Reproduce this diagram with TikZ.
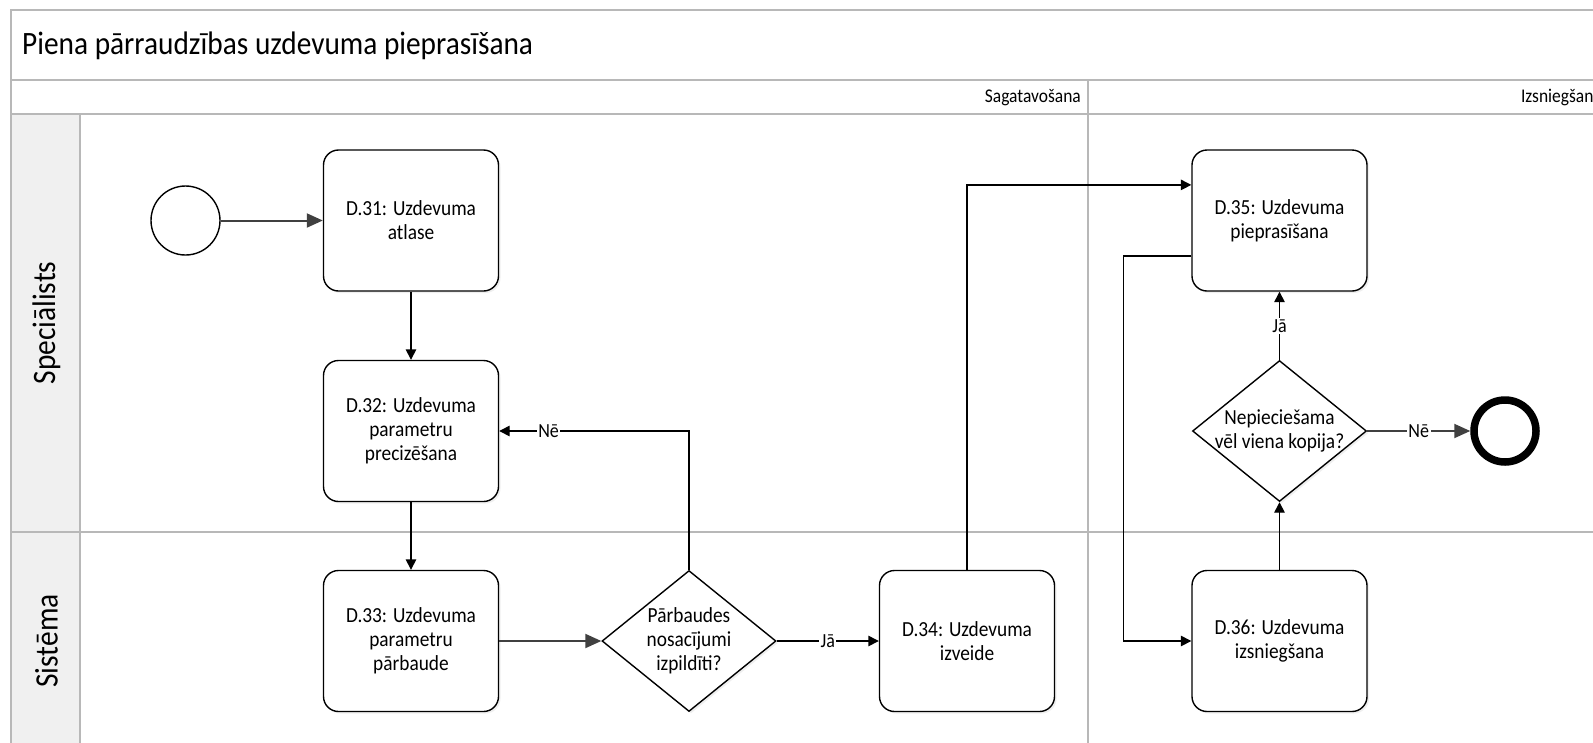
\documentclass[tikz,border=0pt]{standalone}
\usepackage{fontspec}
\setmainfont{Carlito}[FakeStretch=0.9]
\usetikzlibrary{shapes.geometric,arrows.meta,shadows,calc}

\begin{document}
\begin{tikzpicture}[x=1pt,y=-1pt,
  poolline/.style={draw=black!28, line width=1.6pt},
  lanehead/.style={fill=black!6},
  task/.style={rectangle, draw=black, line width=1.4pt, rounded corners=15pt,
    fill=white, minimum width=175pt, minimum height=141pt, inner sep=0pt,
    align=center, font={\fontsize{21.5}{23.8}\selectfont},
    drop shadow={shadow xshift=2pt, shadow yshift=-2pt, opacity=0.12}},
  decision/.style={diamond, draw=black, line width=1.4pt, fill=white,
    minimum width=174pt, minimum height=141pt, inner sep=0pt,
    drop shadow={shadow xshift=2pt, shadow yshift=-2pt, opacity=0.12}},
  dtext/.style={align=center, font={\fontsize{21.5}{23.8}\selectfont}, inner sep=0pt},
  startev/.style={circle, draw=black, line width=1.4pt, fill=white,
    minimum size=69pt, inner sep=0pt},
  endev/.style={circle, draw=black, line width=7.5pt, fill=white,
    minimum size=62pt, inner sep=0pt},
  arr/.style={draw=black, line width=1.4pt, -{Triangle[length=10.5pt,width=10.5pt]}},
  garr/.style={draw=black!75, line width=2pt, -{Triangle[length=16pt,width=14pt]}},
  lbl/.style={fill=white, inner sep=1.5pt, font={\fontsize{20}{22}\selectfont}},
  phase/.style={anchor=east, inner sep=0pt, font={\fontsize{19.4}{22}\selectfont}},
  lanetitle/.style={rotate=90, inner sep=0pt, font={\fontsize{32.7}{36}\selectfont}}
]
\useasboundingbox (0,0) rectangle (1593,742);
\clip (0,0) rectangle (1593,742);
\fill[white] (0,0) rectangle (1593,742);

% pool, title band, phase headers and lanes
\fill[lanehead] (11,114) rectangle (80,770);
\draw[poolline] (11,770) -- (11,10) -- (1611,10) -- (1611,770);
\draw[poolline] (11,80) -- (1611,80);
\draw[poolline] (11,114) -- (1611,114);
\draw[poolline] (80,114) -- (80,770);
\draw[poolline] (11,532) -- (1611,532);
\draw[poolline] (1088,80) -- (1088,770);

\node[anchor=west, inner sep=0pt, font={\fontsize{32.6}{36}\selectfont}] (title) at (22,46) {Piena pārraudzības uzdevuma pieprasīšana};
\node[phase] (ph1) at (1081,97.5) {Sagatavošana};
\node[phase] (ph2) at (1602,97.5) {Izsniegšana};
\node[lanetitle] (lane1) at (46.5,323) {Speciālists};
\node[lanetitle] (lane2) at (46.5,641) {Sistēma};

% flow objects
\node[startev] (start) at (185.5,220.5) {};
\node[task] (d31) at (411,220.5) {D.31: Uzdevuma\\atlase};
\node[task] (d32) at (411,431) {D.32: Uzdevuma\\parametru\\precizēšana};
\node[task] (d33) at (411,641) {D.33: Uzdevuma\\parametru\\pārbaude};
\node[decision, label={[dtext]center:Pārbaudes\\nosacījumi\\izpildīti?}] (g1) at (689,641) {};
\node[task] (d34) at (967,641) {D.34: Uzdevuma\\izveide};
\node[task] (d35) at (1279.5,220.5) {D.35: Uzdevuma\\pieprasīšana};
\node[decision, label={[dtext]center:Nepieciešama\\vēl viena kopija?}] (g2) at (1279.5,431) {};
\node[task] (d36) at (1279.5,641) {D.36: Uzdevuma\\izsniegšana};
\node[endev] (end) at (1505,431) {};

\coordinate (d35in) at ($(d35.north west)!0.25!(d35.south west)$);
\coordinate (d35out) at ($(d35.north west)!0.75!(d35.south west)$);

% sequence flows
\draw[garr] (start) -- (d31);
\draw[arr] (d31) -- (d32);
\draw[arr] (d32) -- (d33);
\draw[garr] (d33) -- (g1);
\draw[arr] (g1) -- node[lbl] {Jā} (d34);
\draw[arr] (g1.north) |- node[lbl, pos=0.87] {Nē} (d32.east);
\draw[arr] (d34.north) |- (d35in);
\draw[arr] (d35out) -- ++(-68,0) |- (d36.west);
\draw[arr] (d36) -- (g2);
\draw[arr] (g2) -- node[lbl] {Jā} (d35);
\draw[garr] (g2) -- node[lbl] {Nē} (end);
\end{tikzpicture}
\end{document}
